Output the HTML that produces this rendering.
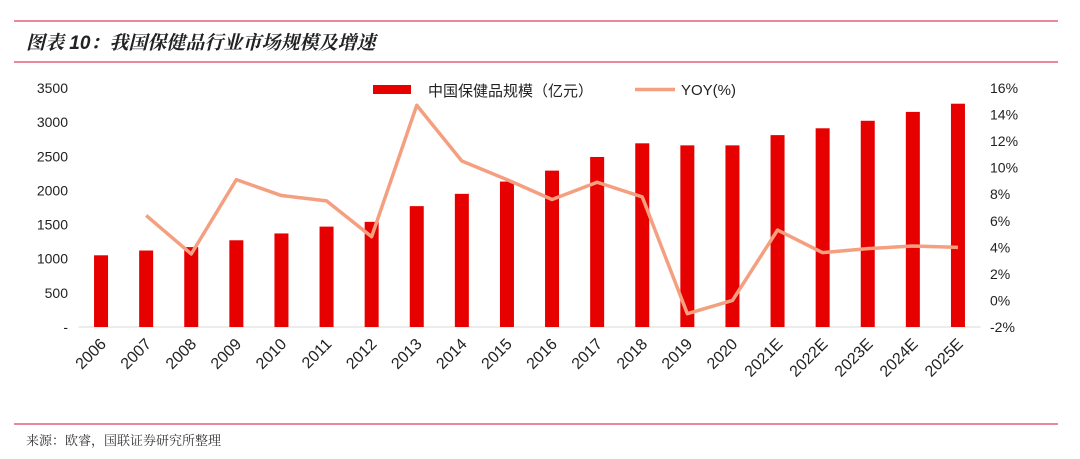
<!DOCTYPE html>
<html><head><meta charset="utf-8"><style>
body{margin:0;background:#fff;width:1080px;height:454px;overflow:hidden;font-family:"Liberation Sans","Noto Sans CJK SC",sans-serif}
</style></head><body>
<svg width="1080" height="454" xmlns="http://www.w3.org/2000/svg">
<line x1="14" y1="21" x2="1058" y2="21" stroke="#d9455f" stroke-width="1.2"/>
<text x="26" y="49" font-size="19" font-style="italic" font-weight="bold" fill="#222" font-family="'Liberation Sans','Noto Serif CJK SC',serif">图表 10：我国保健品行业市场规模及增速</text>
<line x1="14" y1="62" x2="1058" y2="62" stroke="#d9455f" stroke-width="1.2"/>
<line x1="14" y1="424" x2="1058" y2="424" stroke="#d9455f" stroke-width="1.2"/>
<text x="26" y="445" font-size="13" fill="#333" font-family="'Liberation Serif','Noto Serif CJK SC',serif">来源：欧睿，国联证券研究所整理</text>
<g id="plot"></g>
</svg>
<script>
const categories=["2006","2007","2008","2009","2010","2011","2012","2013","2014","2015","2016","2017","2018","2019","2020","2021E","2022E","2023E","2024E","2025E"];
const marketSize=[1050,1120,1170,1270,1370,1470,1540,1770,1950,2130,2290,2490,2690,2660,2660,2810,2910,3020,3150,3270];
const yoy=[null,6.4,3.5,9.1,7.9,7.5,4.8,14.7,10.5,9.1,7.6,8.9,7.8,-1.0,0.0,5.3,3.6,3.9,4.1,4.0];
const leftTicks=[0,500,1000,1500,2000,2500,3000,3500];
const leftTickLabels=["-","500","1000","1500","2000","2500","3000","3500"];
const rightTicks=[-2,0,2,4,6,8,10,12,14,16];

const NS="http://www.w3.org/2000/svg";
const g=document.getElementById('plot');
const X0=78.5,X1=980.5,Y0=327,Y1=88;
const step=(X1-X0)/categories.length;
const xc=i=>X0+step*(i+0.5);
const yL=v=>Y0-(v/3500)*(Y0-Y1);
const yR=v=>Y0-((v+2)/18)*(Y0-Y1);
function mk(tag,attrs){const e=document.createElementNS(NS,tag);for(const k in attrs)e.setAttribute(k,attrs[k]);g.appendChild(e);return e;}

leftTicks.forEach((t,i)=>{
 const e=mk('text',{x:68,y:yL(t)+5,'font-size':14,'text-anchor':'end',fill:'#222'});
 e.textContent=leftTickLabels[i];
 
 
});
rightTicks.forEach(t=>{
 const e=mk('text',{x:990,y:yR(t)+5,'font-size':14,fill:'#222'});
 e.textContent=t+'%';
 
 
});
const ax=mk('line',{x1:X0,y1:Y0,x2:X1,y2:Y0,stroke:'#d9d9d9','stroke-width':1});



marketSize.forEach((v,i)=>{
 const r=mk('rect',{x:xc(i)-7,y:yL(v),width:14,height:Y0-yL(v),fill:'#e60000'});
 
 
});
let d='';
yoy.forEach((v,i)=>{if(v===null)return;d+=(d?'L':'M')+xc(i)+','+yR(v);});
const p=mk('path',{d:d,fill:'none',stroke:'#f4a080','stroke-width':3.5,'stroke-linejoin':'round'});



categories.forEach((c,i)=>{
 const x=xc(i)+6,y=Y0+18;
 const e=mk('text',{x:x,y:y,'font-size':16,'text-anchor':'end',fill:'#222',transform:`rotate(-45 ${x} ${y})`});
 e.textContent=c;
 
 
});

const lr=mk('rect',{x:373,y:85,width:38,height:9,fill:'#e60000'});


const lt=mk('text',{x:428,y:96,'font-size':15,fill:'#222'});
lt.textContent='中国保健品规模（亿元）';


const ll=mk('line',{x1:635,y1:89.5,x2:675,y2:89.5,stroke:'#f4a080','stroke-width':3.5});


const lt2=mk('text',{x:681,y:95,'font-size':15,fill:'#222'});
lt2.textContent='YOY(%)';


</script>
</body></html>
